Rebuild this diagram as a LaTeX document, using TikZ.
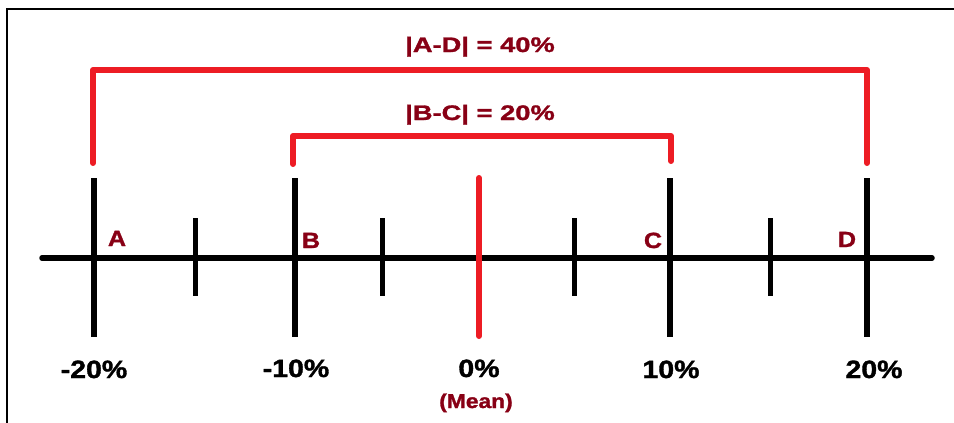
\documentclass[tikz,border=0pt]{standalone}
\usepackage{fontspec}
\newfontfamily\labH[FakeStretch=1.3,FakeBold=1.4]{Liberation Sans Bold}
\newfontfamily\labT[FakeStretch=1.14,FakeBold=1.4]{Liberation Sans Bold}
\definecolor{pred}{HTML}{ED1C24}
\definecolor{dred}{HTML}{880015}
\begin{document}
\begin{tikzpicture}[x=1pt,y=-1pt,
  axisline/.style={line width=5.5pt,black,line cap=round},
  major/.style={line width=5.5pt,black},
  minor/.style={line width=5pt,black},
  bracket/.style={line width=6pt,pred,line cap=round,line join=round},
  headlab/.style={anchor=base,inner sep=0pt,text=dred,font=\labH\fontsize{21}{21}\selectfont},
  letlab/.style={anchor=base,inner sep=0pt,text=dred,font=\labT\fontsize{22}{22}\selectfont},
  pctlab/.style={anchor=base,inner sep=0pt,text=black,font=\labT\fontsize{25}{25}\selectfont},
  meanlab/.style={anchor=base,inner sep=0pt,text=dred,font=\labT\fontsize{20}{20}\selectfont}]
\useasboundingbox (0,0) rectangle (954,423);
\fill[white] (0,0) rectangle (954,423);
% frame (top and left only)
\coordinate (fl) at (7,423);
\coordinate (fc) at (7,9);
\coordinate (fr) at (954,9);
\draw[line width=1.4pt,black] (fl) -- (fc) -- (fr);
% axis
\coordinate (axL) at (42,258);
\coordinate (axR) at (932,258);
\draw[axisline] (axL) -- (axR);
% major ticks
\foreach \n/\x in {a/94,b/295,c/670,d/867}{
  \coordinate (\n t) at (\x,178);
  \coordinate (\n b) at (\x,337);
  \draw[major] (\n t) -- (\n b);
}
% minor ticks
\foreach \n/\x in {1/195,2/382,3/574,4/770}{
  \coordinate (m\n t) at (\x,218);
  \coordinate (m\n b) at (\x,296);
  \draw[minor] (m\n t) -- (m\n b);
}
% mean line
\coordinate (mt) at (479,178);
\coordinate (mb) at (479,336);
\draw[line width=6pt,pred,line cap=round] (mt) -- (mb);
% brackets
\coordinate (o1) at (93,163);
\coordinate (o2) at (93,70);
\coordinate (o3) at (867,70);
\coordinate (o4) at (867,163);
\draw[bracket] (o1) -- (o2) -- (o3) -- (o4);
\coordinate (i1) at (293,164);
\coordinate (i2) at (293,136);
\coordinate (i3) at (671,136);
\coordinate (i4) at (671,161);
\draw[bracket] (i1) -- (i2) -- (i3) -- (i4);
% texts
\node[headlab] (tad) at (480,52) {|A-D| = 40\%};
\node[headlab] (tbc) at (480,120) {|B-C| = 20\%};
\node[letlab] (la) at (117,246) {A};
\node[letlab] (lb) at (311,248) {B};
\node[letlab] (lc) at (653,248) {C};
\node[letlab] (ld) at (847,247) {D};
\node[pctlab] (p1) at (94,378) {-20\%};
\node[pctlab] (p2) at (296,377) {-10\%};
\node[pctlab] (p3) at (479,377) {0\%};
\node[pctlab] (p4) at (671,378) {10\%};
\node[pctlab] (p5) at (874,378) {20\%};
\node[meanlab] (mn) at (476,408) {(Mean)};
\end{tikzpicture}
\end{document}
